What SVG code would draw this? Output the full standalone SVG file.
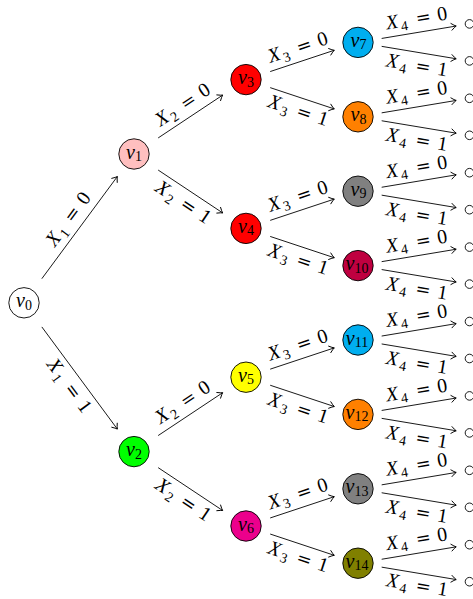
<svg xmlns="http://www.w3.org/2000/svg" width="473" height="599" viewBox="0 0 473 599">
<style>
.nd{stroke:#000;stroke-width:0.9}
.lf{fill:#fff;stroke:#000;stroke-width:0.9}
.nl{font-family:"Liberation Serif",serif;font-size:20px;text-anchor:middle;fill:#000}
.el{font-family:"Liberation Serif",serif;font-size:20px;text-anchor:middle;fill:#000}
.i{font-style:italic}
.s{font-size:14px}
.q{font-family:"DejaVu Serif",serif;font-size:18px}
.e{stroke:#000;stroke-width:0.9;fill:none;marker-end:url(#arr)}
</style>
<defs>
<marker id="arr" markerUnits="userSpaceOnUse" markerWidth="12" markerHeight="12" refX="0" refY="0" orient="auto" style="overflow:visible">
<path d="M -4.8 -3.4 Q -1.6 -0.7 0 0 Q -1.6 0.7 -4.8 3.4" fill="none" stroke="#000" stroke-width="0.9" stroke-linecap="round"/>
</marker>
</defs>
<g id="connectors">
<line class="e" x1="41.83" y1="278.68" x2="117.35" y2="176.52"/>
<text class="el" transform="translate(79.59,227.6) rotate(-53.52)" y="-8"><tspan class="i">X</tspan><tspan class="s" dx="2" dy="4">1</tspan><tspan class="q" dx="8.8" dy="-4">=</tspan><tspan dx="6.9">0</tspan></text>
<line class="e" x1="41.83" y1="326.92" x2="117.35" y2="429.08"/>
<text class="el" transform="translate(79.59,378) rotate(53.52)" y="19"><tspan class="i">X</tspan><tspan class="s" dx="2" dy="4">1</tspan><tspan class="q" dx="8.8" dy="-4">=</tspan><tspan dx="6.9">1</tspan></text>

<line class="e" x1="158.16" y1="137.95" x2="222.68" y2="95.09"/>
<text class="el" transform="translate(190.42,116.52) rotate(-33.59)" y="-8"><tspan class="i">X</tspan><tspan class="s" dx="2" dy="4">2</tspan><tspan class="q" dx="8.8" dy="-4">=</tspan><tspan dx="6.9">0</tspan></text>
<line class="e" x1="158.16" y1="170.05" x2="222.68" y2="212.91"/>
<text class="el" transform="translate(190.42,191.48) rotate(33.59)" y="19"><tspan class="i">X</tspan><tspan class="s" dx="2" dy="4">2</tspan><tspan class="q" dx="8.8" dy="-4">=</tspan><tspan dx="6.9">1</tspan></text>
<line class="e" x1="158.16" y1="435.55" x2="222.68" y2="392.69"/>
<text class="el" transform="translate(190.42,414.12) rotate(-33.59)" y="-8"><tspan class="i">X</tspan><tspan class="s" dx="2" dy="4">2</tspan><tspan class="q" dx="8.8" dy="-4">=</tspan><tspan dx="6.9">0</tspan></text>
<line class="e" x1="158.16" y1="467.65" x2="222.68" y2="510.51"/>
<text class="el" transform="translate(190.42,489.08) rotate(33.59)" y="19"><tspan class="i">X</tspan><tspan class="s" dx="2" dy="4">2</tspan><tspan class="q" dx="8.8" dy="-4">=</tspan><tspan dx="6.9">1</tspan></text>

<line class="e" x1="270.2" y1="71.56" x2="334.27" y2="50.28"/>
<text class="el" transform="translate(302.24,60.92) rotate(-18.38)" y="-8"><tspan class="i">X</tspan><tspan class="s" dx="2" dy="4">3</tspan><tspan class="q" dx="8.8" dy="-4">=</tspan><tspan dx="6.9">0</tspan></text>
<line class="e" x1="270.2" y1="87.64" x2="334.27" y2="108.92"/>
<text class="el" transform="translate(302.24,98.28) rotate(18.38)" y="19"><tspan class="i">X</tspan><tspan class="s" dx="2" dy="4">3</tspan><tspan class="q" dx="8.8" dy="-4">=</tspan><tspan dx="6.9">1</tspan></text>
<line class="e" x1="270.2" y1="220.36" x2="334.27" y2="199.08"/>
<text class="el" transform="translate(302.24,209.72) rotate(-18.38)" y="-8"><tspan class="i">X</tspan><tspan class="s" dx="2" dy="4">3</tspan><tspan class="q" dx="8.8" dy="-4">=</tspan><tspan dx="6.9">0</tspan></text>
<line class="e" x1="270.2" y1="236.44" x2="334.27" y2="257.72"/>
<text class="el" transform="translate(302.24,247.08) rotate(18.38)" y="19"><tspan class="i">X</tspan><tspan class="s" dx="2" dy="4">3</tspan><tspan class="q" dx="8.8" dy="-4">=</tspan><tspan dx="6.9">1</tspan></text>
<line class="e" x1="270.2" y1="369.16" x2="334.27" y2="347.88"/>
<text class="el" transform="translate(302.24,358.52) rotate(-18.38)" y="-8"><tspan class="i">X</tspan><tspan class="s" dx="2" dy="4">3</tspan><tspan class="q" dx="8.8" dy="-4">=</tspan><tspan dx="6.9">0</tspan></text>
<line class="e" x1="270.2" y1="385.24" x2="334.27" y2="406.52"/>
<text class="el" transform="translate(302.24,395.88) rotate(18.38)" y="19"><tspan class="i">X</tspan><tspan class="s" dx="2" dy="4">3</tspan><tspan class="q" dx="8.8" dy="-4">=</tspan><tspan dx="6.9">1</tspan></text>
<line class="e" x1="270.2" y1="517.96" x2="334.27" y2="496.68"/>
<text class="el" transform="translate(302.24,507.32) rotate(-18.38)" y="-8"><tspan class="i">X</tspan><tspan class="s" dx="2" dy="4">3</tspan><tspan class="q" dx="8.8" dy="-4">=</tspan><tspan dx="6.9">0</tspan></text>
<line class="e" x1="270.2" y1="534.04" x2="334.27" y2="555.32"/>
<text class="el" transform="translate(302.24,544.68) rotate(18.38)" y="19"><tspan class="i">X</tspan><tspan class="s" dx="2" dy="4">3</tspan><tspan class="q" dx="8.8" dy="-4">=</tspan><tspan dx="6.9">1</tspan></text>

<line class="e" x1="381.67" y1="38.45" x2="456.18" y2="26.04"/>
<text class="el" transform="translate(418.93,32.24) rotate(-9.46)" y="-8"><tspan class="i">X</tspan><tspan class="s" dx="2" dy="4">4</tspan><tspan class="q" dx="8.8" dy="-4">=</tspan><tspan dx="6.9">0</tspan></text>
<line class="e" x1="381.67" y1="46.35" x2="456.18" y2="58.76"/>
<text class="el" transform="translate(418.93,52.56) rotate(9.46)" y="19"><tspan class="i">X</tspan><tspan class="s" dx="2" dy="4">4</tspan><tspan class="q" dx="8.8" dy="-4">=</tspan><tspan dx="6.9">1</tspan></text>
<line class="e" x1="381.67" y1="112.85" x2="456.18" y2="100.44"/>
<text class="el" transform="translate(418.93,106.64) rotate(-9.46)" y="-8"><tspan class="i">X</tspan><tspan class="s" dx="2" dy="4">4</tspan><tspan class="q" dx="8.8" dy="-4">=</tspan><tspan dx="6.9">0</tspan></text>
<line class="e" x1="381.67" y1="120.75" x2="456.18" y2="133.16"/>
<text class="el" transform="translate(418.93,126.96) rotate(9.46)" y="19"><tspan class="i">X</tspan><tspan class="s" dx="2" dy="4">4</tspan><tspan class="q" dx="8.8" dy="-4">=</tspan><tspan dx="6.9">1</tspan></text>
<line class="e" x1="381.67" y1="187.25" x2="456.18" y2="174.84"/>
<text class="el" transform="translate(418.93,181.04) rotate(-9.46)" y="-8"><tspan class="i">X</tspan><tspan class="s" dx="2" dy="4">4</tspan><tspan class="q" dx="8.8" dy="-4">=</tspan><tspan dx="6.9">0</tspan></text>
<line class="e" x1="381.67" y1="195.15" x2="456.18" y2="207.56"/>
<text class="el" transform="translate(418.93,201.36) rotate(9.46)" y="19"><tspan class="i">X</tspan><tspan class="s" dx="2" dy="4">4</tspan><tspan class="q" dx="8.8" dy="-4">=</tspan><tspan dx="6.9">1</tspan></text>
<line class="e" x1="381.67" y1="261.65" x2="456.18" y2="249.24"/>
<text class="el" transform="translate(418.93,255.44) rotate(-9.46)" y="-8"><tspan class="i">X</tspan><tspan class="s" dx="2" dy="4">4</tspan><tspan class="q" dx="8.8" dy="-4">=</tspan><tspan dx="6.9">0</tspan></text>
<line class="e" x1="381.67" y1="269.55" x2="456.18" y2="281.96"/>
<text class="el" transform="translate(418.93,275.76) rotate(9.46)" y="19"><tspan class="i">X</tspan><tspan class="s" dx="2" dy="4">4</tspan><tspan class="q" dx="8.8" dy="-4">=</tspan><tspan dx="6.9">1</tspan></text>
<line class="e" x1="381.67" y1="336.05" x2="456.18" y2="323.64"/>
<text class="el" transform="translate(418.93,329.84) rotate(-9.46)" y="-8"><tspan class="i">X</tspan><tspan class="s" dx="2" dy="4">4</tspan><tspan class="q" dx="8.8" dy="-4">=</tspan><tspan dx="6.9">0</tspan></text>
<line class="e" x1="381.67" y1="343.95" x2="456.18" y2="356.36"/>
<text class="el" transform="translate(418.93,350.16) rotate(9.46)" y="19"><tspan class="i">X</tspan><tspan class="s" dx="2" dy="4">4</tspan><tspan class="q" dx="8.8" dy="-4">=</tspan><tspan dx="6.9">1</tspan></text>
<line class="e" x1="381.67" y1="410.45" x2="456.18" y2="398.04"/>
<text class="el" transform="translate(418.93,404.24) rotate(-9.46)" y="-8"><tspan class="i">X</tspan><tspan class="s" dx="2" dy="4">4</tspan><tspan class="q" dx="8.8" dy="-4">=</tspan><tspan dx="6.9">0</tspan></text>
<line class="e" x1="381.67" y1="418.35" x2="456.18" y2="430.76"/>
<text class="el" transform="translate(418.93,424.56) rotate(9.46)" y="19"><tspan class="i">X</tspan><tspan class="s" dx="2" dy="4">4</tspan><tspan class="q" dx="8.8" dy="-4">=</tspan><tspan dx="6.9">1</tspan></text>
<line class="e" x1="381.67" y1="484.85" x2="456.18" y2="472.44"/>
<text class="el" transform="translate(418.93,478.64) rotate(-9.46)" y="-8"><tspan class="i">X</tspan><tspan class="s" dx="2" dy="4">4</tspan><tspan class="q" dx="8.8" dy="-4">=</tspan><tspan dx="6.9">0</tspan></text>
<line class="e" x1="381.67" y1="492.75" x2="456.18" y2="505.16"/>
<text class="el" transform="translate(418.93,498.96) rotate(9.46)" y="19"><tspan class="i">X</tspan><tspan class="s" dx="2" dy="4">4</tspan><tspan class="q" dx="8.8" dy="-4">=</tspan><tspan dx="6.9">1</tspan></text>
<line class="e" x1="381.67" y1="559.25" x2="456.18" y2="546.84"/>
<text class="el" transform="translate(418.93,553.04) rotate(-9.46)" y="-8"><tspan class="i">X</tspan><tspan class="s" dx="2" dy="4">4</tspan><tspan class="q" dx="8.8" dy="-4">=</tspan><tspan dx="6.9">0</tspan></text>
<line class="e" x1="381.67" y1="567.15" x2="456.18" y2="579.56"/>
<text class="el" transform="translate(418.93,573.36) rotate(9.46)" y="18"><tspan class="i">X</tspan><tspan class="s" dx="2" dy="4">4</tspan><tspan class="q" dx="8.8" dy="-4">=</tspan><tspan dx="6.9">1</tspan></text>
</g>

<g id="v0"><circle class="nd" cx="24" cy="302.8" r="15.2" fill="#fff"/><text class="nl" x="24" y="307.3"><tspan class="i">v</tspan><tspan class="s" dy="2.5">0</tspan></text></g>
<g id="v1"><circle class="nd" cx="134" cy="154" r="15.2" fill="#FFBFBF"/><text class="nl" x="134" y="158.5"><tspan class="i">v</tspan><tspan class="s" dy="2.5">1</tspan></text></g>
<g id="v2"><circle class="nd" cx="134" cy="451.6" r="15.2" fill="#00FF00"/><text class="nl" x="134" y="456.1"><tspan class="i">v</tspan><tspan class="s" dy="2.5">2</tspan></text></g>
<g id="v3"><circle class="nd" cx="246" cy="79.6" r="15.2" fill="#FF0000"/><text class="nl" x="246" y="84.1"><tspan class="i">v</tspan><tspan class="s" dy="2.5">3</tspan></text></g>
<g id="v4"><circle class="nd" cx="246" cy="228.4" r="15.2" fill="#FF0000"/><text class="nl" x="246" y="232.9"><tspan class="i">v</tspan><tspan class="s" dy="2.5">4</tspan></text></g>
<g id="v5"><circle class="nd" cx="246" cy="377.2" r="15.2" fill="#FFFF00"/><text class="nl" x="246" y="381.7"><tspan class="i">v</tspan><tspan class="s" dy="2.5">5</tspan></text></g>
<g id="v6"><circle class="nd" cx="246" cy="526" r="15.2" fill="#EC008C"/><text class="nl" x="246" y="530.5"><tspan class="i">v</tspan><tspan class="s" dy="2.5">6</tspan></text></g>
<g id="v7"><circle class="nd" cx="358" cy="42.4" r="15.2" fill="#00AEEF"/><text class="nl" x="358.5" y="46.9"><tspan class="i">v</tspan><tspan class="s" dy="2.5">7</tspan></text></g>
<g id="v8"><circle class="nd" cx="358" cy="116.8" r="15.2" fill="#FF8000"/><text class="nl" x="358.5" y="121.3"><tspan class="i">v</tspan><tspan class="s" dy="2.5">8</tspan></text></g>
<g id="v9"><circle class="nd" cx="358" cy="191.2" r="15.2" fill="#808080"/><text class="nl" x="358.5" y="195.7"><tspan class="i">v</tspan><tspan class="s" dy="2.5">9</tspan></text></g>
<g id="v10"><circle class="nd" cx="358" cy="265.6" r="15.2" fill="#BF0040"/><text class="nl" x="357" y="270.1"><tspan class="i">v</tspan><tspan class="s" dy="2.5">10</tspan></text></g>
<g id="v11"><circle class="nd" cx="358" cy="340" r="15.2" fill="#00AEEF"/><text class="nl" x="357" y="344.5"><tspan class="i">v</tspan><tspan class="s" dy="2.5">11</tspan></text></g>
<g id="v12"><circle class="nd" cx="358" cy="414.4" r="15.2" fill="#FF8000"/><text class="nl" x="357" y="418.9"><tspan class="i">v</tspan><tspan class="s" dy="2.5">12</tspan></text></g>
<g id="v13"><circle class="nd" cx="358" cy="488.8" r="15.2" fill="#808080"/><text class="nl" x="357" y="493.3"><tspan class="i">v</tspan><tspan class="s" dy="2.5">13</tspan></text></g>
<g id="v14"><circle class="nd" cx="358" cy="563.2" r="15.2" fill="#808000"/><text class="nl" x="357" y="567.7"><tspan class="i">v</tspan><tspan class="s" dy="2.5">14</tspan></text></g>

<g id="leaves">
<circle class="lf" cx="469.5" cy="23.9" r="4.3"/>
<circle class="lf" cx="469.5" cy="60.9" r="4.3"/>
<circle class="lf" cx="469.5" cy="98.3" r="4.3"/>
<circle class="lf" cx="469.5" cy="135.3" r="4.3"/>
<circle class="lf" cx="469.5" cy="172.7" r="4.3"/>
<circle class="lf" cx="469.5" cy="209.7" r="4.3"/>
<circle class="lf" cx="469.5" cy="247.1" r="4.3"/>
<circle class="lf" cx="469.5" cy="284.1" r="4.3"/>
<circle class="lf" cx="469.5" cy="321.5" r="4.3"/>
<circle class="lf" cx="469.5" cy="358.5" r="4.3"/>
<circle class="lf" cx="469.5" cy="395.9" r="4.3"/>
<circle class="lf" cx="469.5" cy="432.9" r="4.3"/>
<circle class="lf" cx="469.5" cy="470.3" r="4.3"/>
<circle class="lf" cx="469.5" cy="507.3" r="4.3"/>
<circle class="lf" cx="469.5" cy="544.7" r="4.3"/>
<circle class="lf" cx="469.5" cy="581.7" r="4.3"/>
</g>
</svg>
